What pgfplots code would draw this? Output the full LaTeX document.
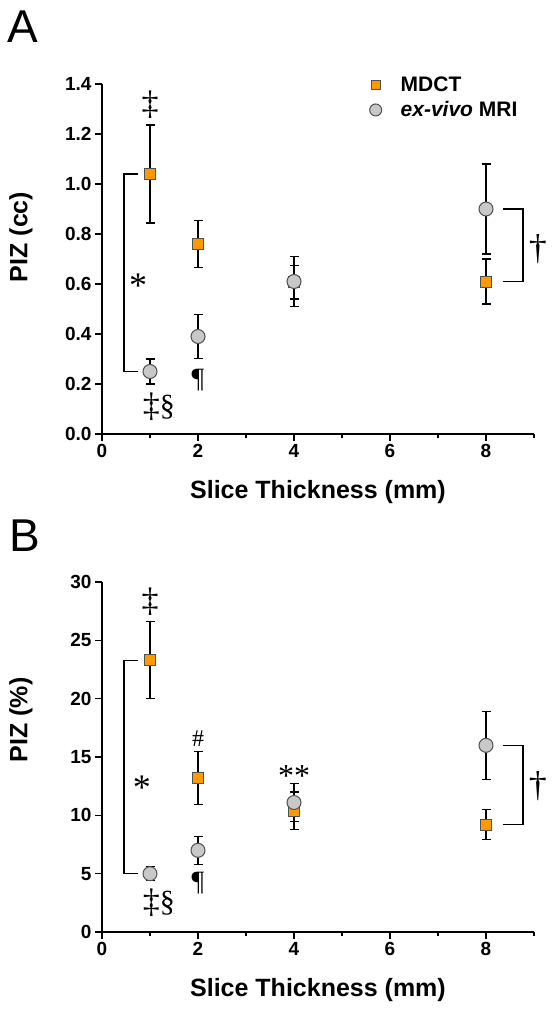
\documentclass[border=0pt]{standalone}
\usepackage{pgfplots}
\pgfplotsset{compat=1.18}
\usepackage{pgfplotstable}
\usepackage{fontspec}
\setmainfont{Liberation Sans}
\newfontfamily\serifsym{Liberation Serif}
\definecolor{mdct}{RGB}{255,153,0}
\definecolor{mri}{RGB}{200,200,200}
\definecolor{edge}{RGB}{80,80,80}

\pgfplotstableread{
x y e
1 1.04 0.196
2 0.76 0.095
4 0.607 0.067
8 0.61 0.09
}\ctA
\pgfplotstableread{
x y e
1 0.25 0.05
2 0.39 0.088
4 0.61 0.10
8 0.90 0.18
}\mriA
\pgfplotstableread{
x y e
1 23.3 3.3
2 13.2 2.3
4 10.4 1.6
8 9.2 1.3
}\ctB
\pgfplotstableread{
x y e
1 5.0 0.6
2 7.0 1.2
4 11.1 1.6
8 16.0 2.9
}\mriB

\pgfplotsset{
  pizstyle/.style={
    scale only axis, width=432pt, height=350pt,
    xmin=0, xmax=9, ymin=0,
    axis x line*=bottom, axis y line*=left,
    axis line style={line width=1.5pt,-},
    xtick={0,2,4,6,8}, minor xtick={1,3,5,7,9},
    tick align=outside, major tick length=7pt, minor tick length=4pt,
    tick style={line width=1.5pt, black},
    tick label style={font=\fontsize{19}{19}\selectfont\bfseries},
    /pgf/number format/assume math mode=true,
    clip=false,
    xlabel={Slice Thickness (mm)},
    label style={font=\fontsize{25}{25}\selectfont\bfseries},
    xlabel style={at={(axis description cs:0.5,-0.166)}, anchor=center},
  },
  ctstyle/.style={only marks, mark=square*, mark size=5.5pt,
    mark options={fill=mdct, draw=edge, line width=0.6pt},
    error bars/.cd, y dir=both, y explicit,
    error bar style={line width=1.3pt, black},
    error mark options={rotate=90, mark size=4.5pt, line width=1.3pt, black}},
  mristyle/.style={only marks, mark=*, mark size=7pt,
    mark options={fill=mri, draw=edge, line width=1pt},
    error bars/.cd, y dir=both, y explicit,
    error bar style={line width=1.3pt, black},
    error mark options={rotate=90, mark size=4.5pt, line width=1.3pt, black}},
}

\begin{document}
\begin{tikzpicture}
\path[use as bounding box] (0,0) rectangle (557pt,-1011pt);
\node[anchor=base west, font=\fontsize{46}{46}\selectfont, inner sep=0pt] at (7pt,-43pt) {A};
\node[anchor=base west, font=\fontsize{46}{46}\selectfont, inner sep=0pt] at (9pt,-551pt) {B};

% ---------------- Panel A
\begin{axis}[pizstyle, at={(102pt,-434pt)}, anchor=south west,
  ymax=1.4, ytick={0,0.2,0.4,0.6,0.8,1.0,1.2,1.4},
  yticklabel style={/pgf/number format/.cd, fixed, fixed zerofill, precision=1},
  ylabel={PIZ (cc)},
  ylabel style={at={(axis description cs:-0.1875,0.563)}, anchor=center, rotate=0},
  legend style={draw=none, fill=none, font=\fontsize{21}{21}\selectfont\bfseries,
    at={(axis cs:5.51,1.447)}, anchor=north west, row sep=5pt},
  legend cell align=left,
]
\addplot[legend image post style={mark size=4.5pt}, ctstyle] table[x=x, y=y, y error=e] {\ctA};
\addlegendentry{\hspace{17pt}MDCT}
\addplot[legend image post style={mark size=6pt}, mristyle] table[x=x, y=y, y error=e] {\mriA};
\addlegendentry{\hspace{17pt}\textit{ex-vivo} MRI}
\addplot[forget plot, black, line width=1.2pt, sharp plot, no marks] coordinates {(0.75,1.04) (0.46,1.04) (0.46,0.25) (0.75,0.25)};
\addplot[forget plot, black, line width=1.2pt, sharp plot, no marks] coordinates {(8.35,0.90) (8.77,0.90) (8.77,0.61) (8.35,0.61)};
\node[font=\serifsym\fontsize{34}{34}\selectfont] at (axis cs:1,1.318) {‡};
\node[font=\serifsym\fontsize{36}{36}\selectfont, anchor=north, inner sep=0pt] at (axis cs:0.75,0.64) {*};
\node[font=\serifsym\fontsize{34}{34}\selectfont] at (axis cs:1.03,0.108) {‡};
\node[font=\serifsym\fontsize{30}{30}\selectfont] at (axis cs:1.36,0.108) {§};
\node[font=\serifsym\fontsize{28}{28}\selectfont] at (axis cs:2,0.216) {¶};
\node[font=\serifsym\fontsize{36}{36}\selectfont] at (axis cs:9.08,0.74) {†};
\end{axis}

% ---------------- Panel B
\begin{axis}[pizstyle, at={(102pt,-932pt)}, anchor=south west,
  ymax=30, ytick={0,5,10,15,20,25,30},
  ylabel={PIZ (\%)},
  ylabel style={at={(axis description cs:-0.1875,0.606)}, anchor=center, rotate=0},
]
\addplot[ctstyle] table[x=x, y=y, y error=e] {\ctB};
\addplot[mristyle] table[x=x, y=y, y error=e] {\mriB};
\addplot[forget plot, black, line width=1.2pt, sharp plot, no marks] coordinates {(0.75,23.3) (0.46,23.3) (0.46,5.0) (0.75,5.0)};
\addplot[forget plot, black, line width=1.2pt, sharp plot, no marks] coordinates {(8.35,16.0) (8.77,16.0) (8.77,9.2) (8.35,9.2)};
\node[font=\serifsym\fontsize{34}{34}\selectfont] at (axis cs:1,28.3) {‡};
\node[font=\serifsym\fontsize{36}{36}\selectfont, anchor=north, inner sep=0pt] at (axis cs:0.83,13.4) {*};
\node[font=\serifsym\fontsize{24}{24}\selectfont] at (axis cs:2,16.6) {\#};
\node[font=\serifsym\fontsize{32}{32}\selectfont, anchor=north, inner sep=0pt] at (axis cs:4,14.3) {**};
\node[font=\serifsym\fontsize{34}{34}\selectfont] at (axis cs:1.03,2.5) {‡};
\node[font=\serifsym\fontsize{30}{30}\selectfont] at (axis cs:1.36,2.5) {§};
\node[font=\serifsym\fontsize{28}{28}\selectfont] at (axis cs:2,4.2) {¶};
\node[font=\serifsym\fontsize{36}{36}\selectfont] at (axis cs:9.08,12.5) {†};
\end{axis}
\end{tikzpicture}
\end{document}
